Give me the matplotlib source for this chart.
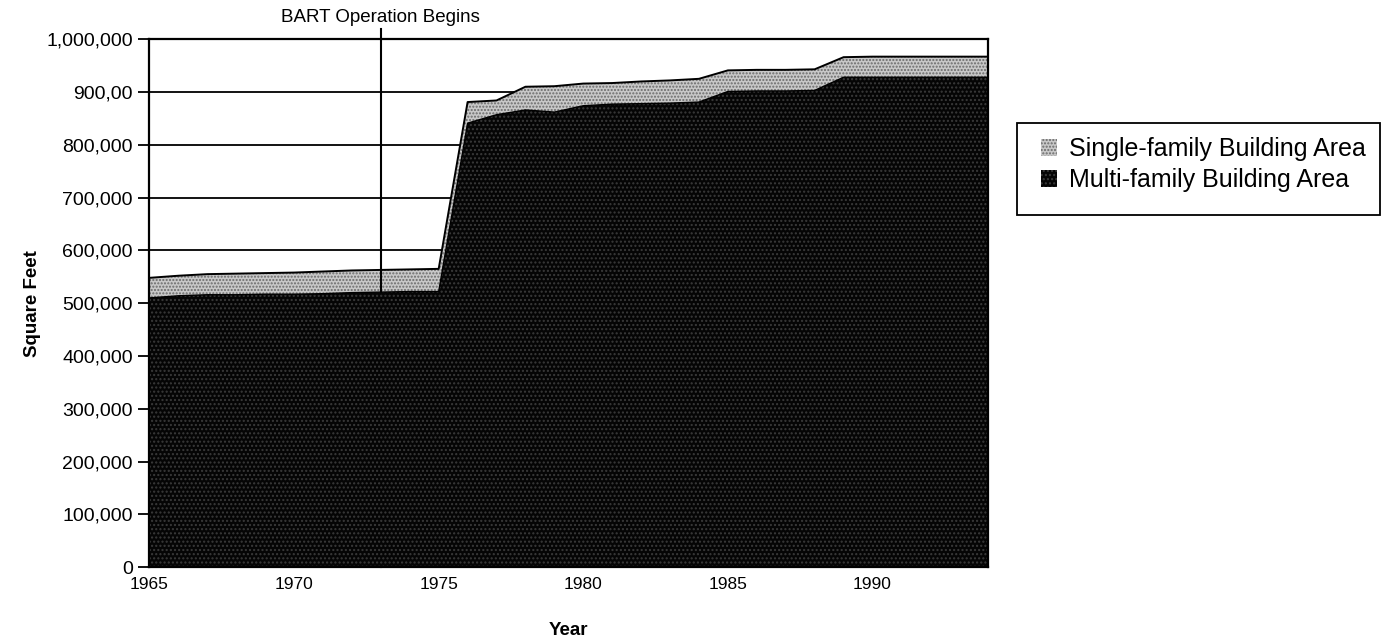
import matplotlib
matplotlib.use("Agg")
import matplotlib.pyplot as plt
import matplotlib.transforms as mtransforms
from matplotlib.patches import Patch, Rectangle
import numpy as np

# ---- data ----
years = [1965, 1966, 1967, 1968, 1969, 1970, 1971, 1972, 1973, 1974, 1975,
         1976, 1977, 1978, 1979, 1980, 1981, 1982, 1983, 1984, 1985,
         1986, 1987, 1988, 1989, 1990, 1991, 1992, 1993, 1994]
multi_family = [510000, 514000, 516000, 516000, 517000, 517000, 518000, 520000, 521000, 522000, 522000,
                841000, 857000, 866000, 862000, 874000, 877000, 878000, 879000, 881000, 901000,
                902000, 902000, 903000, 928000, 928000, 928000, 928000, 928000, 928000]
single_family = [38000, 38000, 39000, 40000, 40000, 41000, 42000, 42000, 42000, 42000, 43000,
                 40000, 27000, 44000, 49000, 42000, 40000, 42000, 43000, 44000, 40000,
                 40000, 40000, 40000, 38000, 39000, 39000, 39000, 39000, 39000]
series_names = ["Single-family Building Area", "Multi-family Building Area"]
xtick_years = [1965, 1970, 1975, 1980, 1985, 1990]
xtick_labels = ["1965", "1970", "1975", "1980", "1985", "1990"]
ytick_values = [0, 100000, 200000, 300000, 400000, 500000, 600000, 700000, 800000, 900000, 1000000]
ytick_labels = ["0", "100,000", "200,000", "300,000", "400,000", "500,000", "600,000",
                "700,000", "800,000", "900,00", "1,000,000"]
event_year = 1973
event_label = "BART Operation Begins"

plt.rcParams['font.family'] = ['Liberation Sans', 'DejaVu Sans']

x = np.array(years, dtype=float)
m = np.array(multi_family, dtype=float)
s = np.array(single_family, dtype=float)
total = m + s

fig = plt.figure(figsize=(13.84, 6.43), dpi=100)
ax = fig.add_axes([0.108, 0.118, 0.606, 0.821])

# gridlines behind
for v in ytick_values[1:-1]:
    ax.axhline(v, color='black', lw=1.3, zorder=1)

single_face = '#c8c8c8'
single_hatch = '#6a6a6a'
multi_face = '#050505'
multi_hatch = '#3a3a3a'

# single-family (on top of multi)
ax.fill_between(x, m, total, facecolor=single_face, edgecolor=single_hatch,
                hatch='.....', linewidth=0, zorder=2)
# event line
ax.plot([event_year, event_year], [0, 1.02], transform=ax.get_xaxis_transform(),
        color='black', lw=1.5, zorder=2.5, clip_on=False)
# multi-family
ax.fill_between(x, 0, m, facecolor=multi_face, edgecolor=multi_hatch,
                hatch='....', linewidth=0, zorder=3)
ax.plot(x, total, color='black', lw=1.4, zorder=3.5)
ax.plot(x, m, color='black', lw=1.0, zorder=3.5)

ax.set_xlim(1965, 1994)
ax.set_ylim(0, 1000000)
ax.set_yticks(ytick_values)
ax.set_yticklabels(ytick_labels, fontsize=14)
ax.set_xticks(xtick_years)
ax.set_xticklabels(xtick_labels, fontsize=12.5)
ax.tick_params(axis='y', direction='out', length=8, width=1.3, pad=4)
ax.tick_params(axis='x', length=0, pad=7)
for sp in ax.spines.values():
    sp.set_linewidth(1.6)
    sp.set_color('black')
    sp.set_zorder(5)

ax.set_xlabel("Year", fontsize=13.5, fontweight='bold', labelpad=22)
ax.set_ylabel("Square Feet", fontsize=13.5, fontweight='bold', labelpad=4)

trans = mtransforms.blended_transform_factory(ax.transData, fig.transFigure)
ax.text(event_year, 1 - 18 / 643, event_label, transform=trans,
        ha='center', va='center', fontsize=13.5)

handles = [Patch(facecolor=single_face, edgecolor=single_hatch, hatch='.....', linewidth=0),
           Patch(facecolor=multi_face, edgecolor=multi_hatch, hatch='....', linewidth=0)]
fig.legend(handles, series_names, loc='upper left', bbox_to_anchor=(0.736, 0.822),
           frameon=False, fontsize=18, handlelength=0.65, handleheight=0.65,
           handletextpad=0.45, labelspacing=0.3)
fig.patches.append(Rectangle((1017 / 1384, 1 - 215 / 643), (1380 - 1017) / 1384,
                             (215 - 123) / 643, transform=fig.transFigure,
                             fill=False, edgecolor='black', lw=1.3))

fig.savefig("out.png", dpi=100)
